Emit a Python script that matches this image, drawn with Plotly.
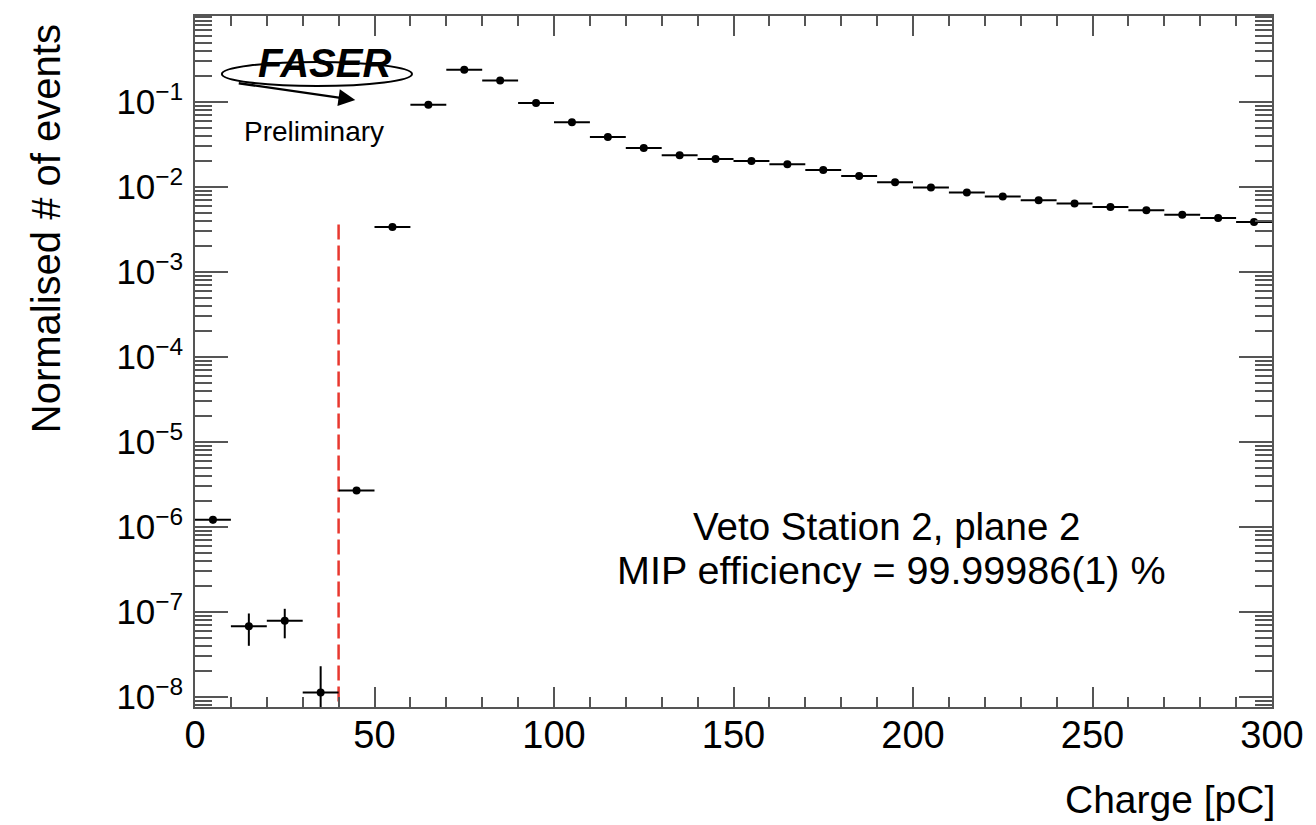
import plotly.graph_objects as go

# ---- data ----
bin_centers = [5, 15, 25, 35, 45, 55, 65, 75, 85, 95, 105, 115, 125, 135, 145,
               155, 165, 175, 185, 195, 205, 215, 225, 235, 245, 255, 265, 275, 285, 295]
values = [1.22e-6, 6.8e-8, 7.9e-8, 1.13e-8, 2.68e-6, 3.38e-3, 0.093, 0.240, 0.179, 0.0973,
          0.0577, 0.0387, 0.0288, 0.0236, 0.0214, 0.0202, 0.0185, 0.0159, 0.0135, 0.01135,
          0.00984, 0.00859, 0.00771, 0.00698, 0.00638, 0.00582, 0.00532, 0.00473, 0.00432, 0.00387]
err_up = [1.17e-7, 2.8e-8, 3.0e-8, 1.17e-8, 1.74e-7, 0, 0, 0, 0, 0,
          0, 0, 0, 0, 0, 0, 0, 0, 0, 0,
          0, 0, 0, 0, 0, 0, 0, 0, 0, 0]
err_down = [1.17e-7, 2.8e-8, 3.0e-8, 1.1e-8, 1.74e-7, 0, 0, 0, 0, 0,
            0, 0, 0, 0, 0, 0, 0, 0, 0, 0,
            0, 0, 0, 0, 0, 0, 0, 0, 0, 0]
half_width = [5] * len(bin_centers)

cut_x = [40, 40]
cut_y = [5e-9, 4.0e-3]

x_range = [0, 300]
y_range_log = [-8.118, 0.012]
y_tick_vals = [1e-8, 1e-7, 1e-6, 1e-5, 1e-4, 1e-3, 1e-2, 1e-1]
y_tick_exps = [-8, -7, -6, -5, -4, -3, -2, -1]

# ---- layout geometry (pixels) ----
W, H = 1316, 825
L, R, T, B = 195, 1277, 16, 707
pw, ph = R - L, B - T


def px(x):
    return (x - L) / pw


def py(y):
    return (B - y) / ph


FONT = "Liberation Sans, Arial, Helvetica, sans-serif"
AXC = "#555555"

fig = go.Figure()

fig.add_trace(go.Scatter(
    x=cut_x, y=cut_y, mode="lines",
    line=dict(color="#e8382f", width=2.5, dash="15px,6px"),
    hoverinfo="skip", showlegend=False,
))

fig.add_trace(go.Scatter(
    x=bin_centers, y=values, mode="markers",
    marker=dict(color="black", size=8, symbol="circle"),
    error_x=dict(type="data", array=half_width, color="black", thickness=2, width=0),
    error_y=dict(type="data", array=err_up, arrayminus=err_down, symmetric=False,
                 color="black", thickness=2, width=0),
    showlegend=False,
))

fig.update_layout(
    width=W, height=H,
    margin=dict(l=L, r=W - R, t=T, b=H - B),
    paper_bgcolor="white", plot_bgcolor="white",
    font=dict(family=FONT, color="black"),
    showlegend=False,
)

fig.update_xaxes(
    range=x_range, dtick=50, tick0=0,
    showgrid=False, zeroline=False,
    showline=True, linecolor=AXC, linewidth=1.5, mirror="allticks",
    ticks="inside", ticklen=20, tickcolor=AXC, tickwidth=1.5,
    minor=dict(dtick=10, ticks="inside", ticklen=10, tickcolor=AXC, tickwidth=1.5, showgrid=False),
    tickfont=dict(size=38, family=FONT, color="black"),
    ticklabelstandoff=-6,
)

y_tick_text = ["10<sup>\u2212%d</sup>" % (-e) for e in y_tick_exps]

fig.update_yaxes(
    type="log", range=y_range_log,
    tickmode="array", tickvals=y_tick_vals, ticktext=y_tick_text,
    showgrid=False, zeroline=False,
    showline=True, linecolor=AXC, linewidth=1.5, mirror="allticks",
    ticks="inside", ticklen=33, tickcolor=AXC, tickwidth=1.5,
    minor=dict(dtick="D1", ticks="inside", ticklen=17, tickcolor=AXC, tickwidth=1.5, showgrid=False),
    tickfont=dict(size=35, family=FONT, color="black"),
    ticklabelstandoff=3,
)

ann = []
# axis titles
ann.append(dict(text="Charge [pC]", xref="paper", yref="paper", x=px(1282), y=py(800),
                xanchor="right", yanchor="middle", showarrow=False,
                font=dict(size=39, family=FONT, color="black")))
ann.append(dict(text="Normalised # of events", xref="paper", yref="paper", x=px(45), y=py(22),
                xanchor="center", yanchor="top", textangle=-90, showarrow=False,
                font=dict(size=40, family=FONT, color="black")))
# info text
ann.append(dict(text="Veto Station 2, plane 2", xref="paper", yref="paper", x=px(890), y=py(526),
                xanchor="center", yanchor="middle", showarrow=False,
                font=dict(size=38.5, family=FONT, color="black")))
ann.append(dict(text="MIP efficiency = 99.99986(1) %", xref="paper", yref="paper", x=px(895), y=py(570),
                xanchor="center", yanchor="middle", showarrow=False,
                font=dict(size=39.5, family=FONT, color="black")))
# FASER logo approximation
ann.append(dict(text="<b><i>FASER</i></b>", xref="paper", yref="paper", x=px(325), y=py(63),
                xanchor="center", yanchor="middle", showarrow=False,
                font=dict(size=40, family=FONT, color="black")))
ann.append(dict(text="", xref="paper", yref="paper", x=px(356), y=py(100),
                ax=-118, ay=-17, showarrow=True, arrowhead=2, arrowsize=1.4,
                arrowwidth=2.4, arrowcolor="black"))
ann.append(dict(text="Preliminary", xref="paper", yref="paper", x=px(315), y=py(131),
                xanchor="center", yanchor="middle", showarrow=False,
                font=dict(size=28, family=FONT, color="black")))
fig.update_layout(annotations=ann)

fig.add_shape(type="circle", xref="paper", yref="paper",
              x0=px(222), x1=px(413), y0=py(86), y1=py(62),
              line=dict(color="black", width=2))

fig.write_html("out.html")
